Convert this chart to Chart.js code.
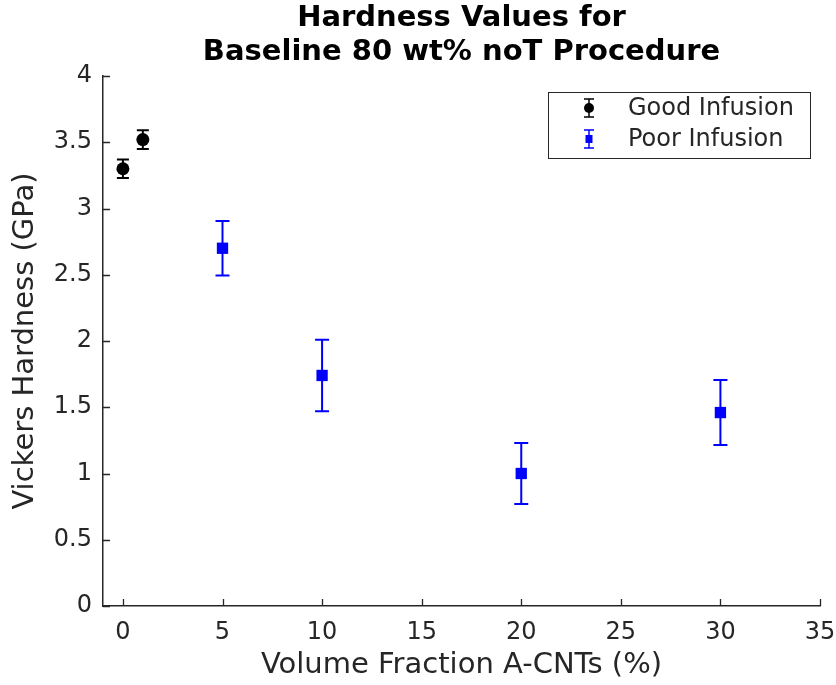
<!DOCTYPE html>
<html>
<head>
<meta charset="utf-8">
<script src="https://cdn.jsdelivr.net/npm/chart.js@4"></script>
<style>
  html, body { margin: 0; padding: 0; background: #fff; }
  #wrap { width: 836px; height: 685px; }
</style>
</head>
<body>
<div id="wrap"><canvas id="hardnessChart" width="836" height="685"></canvas></div>
<script>
// volume fraction (%) and Vickers hardness (GPa) with error half-widths
const goodX = [0, 1];
const goodY = [3.30, 3.52];
const goodErr = [0.07, 0.07];

const poorX = [5, 10, 20, 30];
const poorY = [2.70, 1.74, 1.00, 1.46];
const poorErr = [0.205, 0.27, 0.23, 0.245];

const xTicks = [0, 5, 10, 15, 20, 25, 30, 35];
const yTicks = [0, 0.5, 1, 1.5, 2, 2.5, 3, 3.5, 4];

const titleLines = ['Hardness Values for', 'Baseline 80 wt% noT Procedure'];
const seriesNames = ['Good Infusion', 'Poor Infusion'];

const axisColor = '#262626';
const fontFamily = 'DejaVu Sans, sans-serif';

function toPoints(xs, ys, errs) {
  return xs.map((x, i) => ({ x: x, y: ys[i], err: errs[i] }));
}

// vertical error bars with caps, drawn under the markers
const errorBars = {
  id: 'errorBars',
  beforeDatasetsDraw(chart) {
    const { ctx, scales: { x, y } } = chart;
    chart.data.datasets.forEach((ds) => {
      ctx.save();
      ctx.strokeStyle = ds.borderColor;
      ctx.lineWidth = 2;
      ds.data.forEach((p) => {
        const px = x.getPixelForValue(p.x);
        const top = y.getPixelForValue(p.y + p.err);
        const bot = y.getPixelForValue(p.y - p.err);
        const cap = ds.capHalf;
        ctx.beginPath();
        ctx.moveTo(px, top); ctx.lineTo(px, bot);
        ctx.moveTo(px - cap, top); ctx.lineTo(px + cap, top);
        ctx.moveTo(px - cap, bot); ctx.lineTo(px + cap, bot);
        ctx.stroke();
      });
      ctx.restore();
    });
  }
};

// inward tick marks, title and boxed legend
const decorations = {
  id: 'decorations',
  afterDraw(chart) {
    const { ctx, chartArea: a, scales: { x, y } } = chart;
    ctx.save();
    ctx.strokeStyle = axisColor;
    ctx.lineWidth = 1.3;
    ctx.beginPath();
    x.ticks.forEach((t) => {
      const px = Math.round(x.getPixelForValue(t.value)) + 0.5;
      ctx.moveTo(px, a.bottom); ctx.lineTo(px, a.bottom - 7);
    });
    y.ticks.forEach((t) => {
      const py = Math.round(y.getPixelForValue(t.value)) + 0.5;
      ctx.moveTo(a.left, py); ctx.lineTo(a.left + 7, py);
    });
    ctx.stroke();

    // title
    ctx.fillStyle = '#000';
    ctx.font = 'bold 29px ' + fontFamily;
    ctx.textAlign = 'center';
    ctx.textBaseline = 'middle';
    const cx = (a.left + a.right) / 2;
    ctx.fillText(titleLines[0], cx, 18);
    ctx.fillText(titleLines[1], cx, 52);

    // legend
    const lx = 548, ly = 92, lw = 262, lh = 66;
    ctx.fillStyle = '#fff';
    ctx.fillRect(lx, ly, lw, lh);
    ctx.strokeStyle = axisColor;
    ctx.lineWidth = 1;
    ctx.strokeRect(lx + 0.5, ly + 0.5, lw, lh);
    chart.data.datasets.forEach((ds, i) => {
      const my = ly + 16 + i * 31;
      const mx = lx + 41;
      ctx.strokeStyle = ds.borderColor;
      ctx.lineWidth = 1.5;
      ctx.beginPath();
      ctx.moveTo(mx, my - 9); ctx.lineTo(mx, my + 9);
      ctx.moveTo(mx - 5, my - 9); ctx.lineTo(mx + 5, my - 9);
      ctx.moveTo(mx - 5, my + 9); ctx.lineTo(mx + 5, my + 9);
      ctx.stroke();
      ctx.fillStyle = ds.backgroundColor;
      if (ds.pointStyle === 'circle') {
        ctx.beginPath();
        ctx.arc(mx, my, 5, 0, Math.PI * 2);
        ctx.fill();
      } else {
        ctx.fillRect(mx - 3.5, my - 4, 7, 8);
      }
      ctx.fillStyle = axisColor;
      ctx.font = '24px ' + fontFamily;
      ctx.textAlign = 'left';
      ctx.fillText(ds.label, lx + 80, my + 1);
    });
    ctx.restore();
  }
};

new Chart(document.getElementById('hardnessChart'), {
  type: 'scatter',
  data: {
    datasets: [
      {
        label: seriesNames[0],
        data: toPoints(goodX, goodY, goodErr),
        backgroundColor: '#000000',
        borderColor: '#000000',
        pointStyle: 'circle',
        pointRadius: 6.5,
        pointBorderWidth: 0,
        capHalf: 6
      },
      {
        label: seriesNames[1],
        data: toPoints(poorX, poorY, poorErr),
        backgroundColor: '#0000ff',
        borderColor: '#0000ff',
        pointStyle: 'rect',
        pointRadius: 8,
        pointBorderWidth: 0,
        capHalf: 7
      }
    ]
  },
  options: {
    responsive: false,
    animation: false,
    layout: { padding: { top: 76, right: 16, left: 0, bottom: 0 } },
    plugins: {
      legend: { display: false },
      title: { display: false },
      tooltip: { enabled: false }
    },
    scales: {
      x: {
        type: 'linear',
        min: -1,
        max: 35,
        afterBuildTicks: (s) => { s.ticks = xTicks.map((v) => ({ value: v })); },
        afterFit: (s) => { s.height = 79; s.paddingLeft = 0; s.paddingRight = 0; },
        grid: { display: false, drawTicks: false },
        border: { display: true, color: axisColor, width: 1.5 },
        ticks: {
          color: axisColor,
          padding: 12,
          maxRotation: 0,
          font: { family: fontFamily, size: 24 },
          callback: (v) => String(v)
        },
        title: {
          display: true,
          text: 'Volume Fraction A-CNTs (%)',
          color: axisColor,
          font: { family: fontFamily, size: 29 },
          padding: { top: 0, bottom: 2 }
        }
      },
      y: {
        type: 'linear',
        min: 0,
        max: 4,
        afterBuildTicks: (s) => { s.ticks = yTicks.map((v) => ({ value: v })); },
        afterFit: (s) => { s.width = 103; s.paddingTop = 0; s.paddingBottom = 0; },
        grid: { display: false, drawTicks: false },
        border: { display: true, color: axisColor, width: 1.5 },
        ticks: {
          color: axisColor,
          padding: 11,
          font: { family: fontFamily, size: 24 },
          callback: (v) => String(v)
        },
        title: {
          display: true,
          text: 'Vickers Hardness (GPa)',
          color: axisColor,
          font: { family: fontFamily, size: 29 },
          padding: { top: 8, bottom: 0 }
        }
      }
    }
  },
  plugins: [errorBars, decorations]
});
</script>
</body>
</html>
